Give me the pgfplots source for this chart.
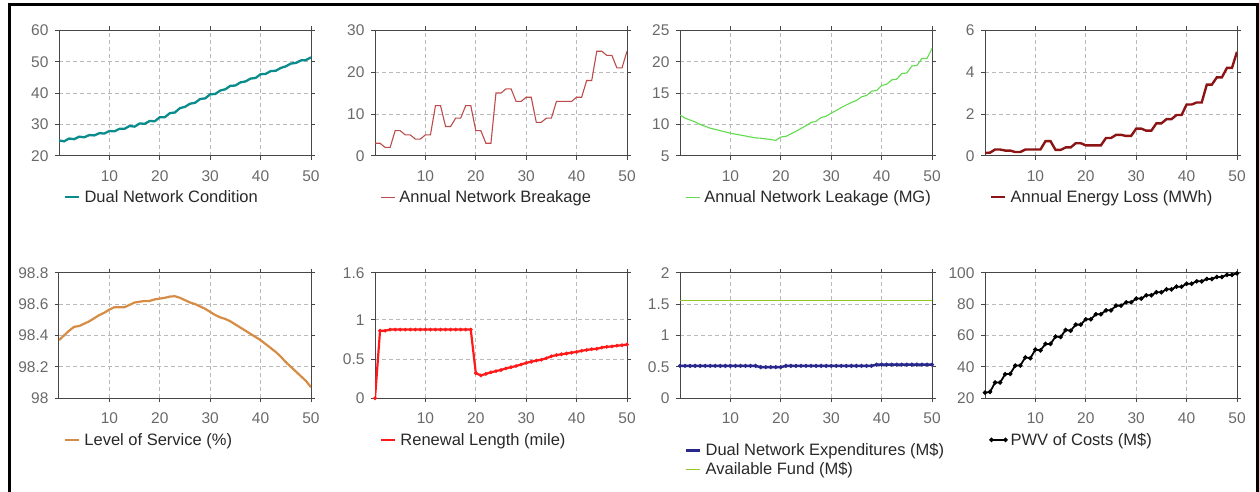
\documentclass[border=0pt]{standalone}
\usepackage{fontspec}
\setmainfont{Liberation Sans}
\usepackage{pgfplots}
\pgfplotsset{compat=1.18}
\definecolor{axisgray}{RGB}{70,70,70}
\definecolor{tickgray}{RGB}{105,105,105}
\definecolor{legtext}{RGB}{40,40,40}
\definecolor{gridgray}{RGB}{185,185,185}
\definecolor{cTeal}{RGB}{10,140,140}
\definecolor{cBreak}{RGB}{190,75,75}
\definecolor{cLeak}{RGB}{95,220,75}
\definecolor{cEnergy}{RGB}{140,20,20}
\definecolor{cLOS}{RGB}{215,140,70}
\definecolor{cRenew}{RGB}{255,25,25}
\definecolor{cNavy}{RGB}{40,40,140}
\definecolor{cFund}{RGB}{145,200,40}
\pgfplotsset{panel/.style={
  scale only axis, width=252pt, height=125.5pt, anchor=north west,
  xmin=0, xmax=50, xtick={10,20,30,40,50},
  grid=major,
  major grid style={color=gridgray, line width=0.8pt, dash pattern=on 4pt off 3pt},
  axis line style={color=axisgray, line width=1pt},
  tick style={color=axisgray, line width=0.8pt},
  tick align=outside, major tick length=4pt,
  ticklabel style={font=\fontsize{15.5}{18}\selectfont, color=tickgray},
  xticklabel style={yshift=-7pt},
  yticklabel style={xshift=-3pt},
  /pgf/number format/assume math mode=true,
  legend style={at={(0.02,-0.33)}, anchor=west, draw=none, fill=none,
    inner sep=0pt, font=\fontsize{16.5}{19}\selectfont, text=legtext,
    nodes={inner sep=0pt}, column sep=4pt, row sep=5pt},
  legend cell align=left,
  legend image code/.code={\draw[#1] plot coordinates {(0pt,0pt) (14pt,0pt)};},
},
plainlegend/.style={legend image code/.code={\draw[#1, mark=none] (0pt,0pt) -- (14pt,0pt);}}}
\begin{document}
\begin{tikzpicture}
\path[use as bounding box] (0,0) rectangle (1259pt,-492pt);
\draw[line width=3pt, black] (9.5pt,-492pt) -- (9.5pt,-4.7pt) -- (1257.5pt,-4.7pt) -- (1257.5pt,-492pt);

% Panel 1
\begin{axis}[panel, at={(59pt,-30.3pt)}, ymin=20, ymax=60, ytick={20,30,40,50,60}]
\addplot[cTeal, line width=2.3pt] coordinates {
(0,24.9)(1,24.6)(2,25.5)(3,25.3)(4,26.1)(5,25.9)(6,26.6)(7,26.5)(8,27.2)(9,27.1)
(10,27.9)(11,27.8)(12,28.6)(13,28.6)(14,29.5)(15,29.3)(16,30.3)(17,30.2)(18,31.1)(19,31.0)
(20,32.3)(21,32.3)(22,33.6)(23,33.8)(24,35.2)(25,35.6)(26,36.6)(27,36.9)(28,38.1)(29,38.3)
(30,39.6)(31,39.7)(32,40.8)(33,41.2)(34,42.3)(35,42.4)(36,43.4)(37,43.7)(38,44.6)(39,44.8)
(40,46.0)(41,46.1)(42,47.0)(43,47.1)(44,48.0)(45,48.5)(46,49.4)(47,49.6)(48,50.4)(49,50.5)(50,51.4)};
\addlegendentry{Dual Network Condition}
\end{axis}

% Panel 2
\begin{axis}[panel, at={(375pt,-30.3pt)}, ymin=0, ymax=30, ytick={0,10,20,30}]
\addplot[cBreak, line width=1.1pt] coordinates {
(0,3)(1,3)(2,2)(3,2)(4,6)(5,6)(6,5)(7,5)(8,4)(9,4)
(10,5)(11,5)(12,12)(13,12)(14,7)(15,7)(16,9)(17,9)(18,12)(19,12)
(20,6)(21,6)(22,3)(23,3)(24,15)(25,15)(26,16)(27,16)(28,13)(29,13)
(30,14)(31,14)(32,8)(33,8)(34,9)(35,9)(36,13)(37,13)(38,13)(39,13)
(40,14)(41,14)(42,18)(43,18)(44,25)(45,25)(46,24)(47,24)(48,21)(49,21)(50,25)};
\addlegendentry{Annual Network Breakage}
\end{axis}

% Panel 3
\begin{axis}[panel, at={(680pt,-30.3pt)}, ymin=5, ymax=25, ytick={5,10,15,20,25}]
\addplot[cLeak, line width=1.1pt] coordinates {
(0,11.5)(1,11.0)(2,10.7)(3,10.4)(4,10.0)(5,9.7)(6,9.4)(7,9.2)(8,9.0)(9,8.8)
(10,8.6)(11,8.45)(12,8.3)(13,8.15)(14,8.0)(15,7.85)(16,7.8)(17,7.7)(18,7.6)(19,7.45)
(20,8.0)(21,8.1)(22,8.5)(23,8.9)(24,9.35)(25,9.8)(26,10.3)(27,10.5)(28,11.1)(29,11.3)
(30,11.8)(31,12.2)(32,12.7)(33,13.1)(34,13.5)(35,13.8)(36,14.4)(37,14.6)(38,15.3)(39,15.4)
(40,16.2)(41,16.4)(42,17.1)(43,17.2)(44,18.1)(45,18.2)(46,19.3)(47,19.4)(48,20.5)(49,20.5)(50,22.1)};
\addlegendentry{Annual Network Leakage (MG)}
\end{axis}

% Panel 4
\begin{axis}[panel, at={(985pt,-30.3pt)}, ymin=0, ymax=6, ytick={0,2,4,6}]
\addplot[cEnergy, line width=2.4pt] coordinates {
(0,0.14)(1,0.15)(2,0.3)(3,0.3)(4,0.25)(5,0.25)(6,0.18)(7,0.18)(8,0.3)(9,0.3)
(10,0.3)(11,0.3)(12,0.7)(13,0.7)(14,0.28)(15,0.28)(16,0.4)(17,0.4)(18,0.6)(19,0.6)
(20,0.5)(21,0.5)(22,0.5)(23,0.5)(24,0.85)(25,0.85)(26,1.0)(27,1.0)(28,0.95)(29,0.95)
(30,1.3)(31,1.3)(32,1.2)(33,1.2)(34,1.55)(35,1.55)(36,1.75)(37,1.75)(38,1.95)(39,1.95)
(40,2.45)(41,2.45)(42,2.55)(43,2.55)(44,3.4)(45,3.4)(46,3.75)(47,3.75)(48,4.2)(49,4.2)(50,4.97)};
\addlegendentry{Annual Energy Loss (MWh)}
\end{axis}

% Panel 5
\begin{axis}[panel, at={(59pt,-272.7pt)}, ymin=98, ymax=98.8, ytick={98,98.2,98.4,98.6,98.8},
  legend style={at={(0.02,-0.332)}}]
\addplot[cLOS, line width=2.2pt] coordinates {
(0,98.37)(1,98.40)(2,98.43)(3,98.455)(4,98.46)(5,98.475)(6,98.49)(7,98.51)(8,98.53)(9,98.545)
(10,98.565)(11,98.58)(12,98.58)(13,98.58)(14,98.595)(15,98.61)(16,98.615)(17,98.62)(18,98.62)(19,98.63)
(20,98.635)(21,98.64)(22,98.648)(23,98.65)(24,98.64)(25,98.625)(26,98.61)(27,98.6)(28,98.585)(29,98.57)
(30,98.55)(31,98.53)(32,98.515)(33,98.505)(34,98.49)(35,98.47)(36,98.45)(37,98.43)(38,98.41)(39,98.39)
(40,98.37)(41,98.345)(42,98.32)(43,98.295)(44,98.265)(45,98.23)(46,98.2)(47,98.17)(48,98.14)(49,98.11)(50,98.07)};
\addlegendentry{Level of Service (\%)}
\end{axis}

% Panel 6
\begin{axis}[panel, plainlegend, at={(375pt,-272.7pt)}, ymin=0, ymax=1.6, ytick={0,0.5,1,1.6},
  legend style={at={(0.02,-0.332)}}]
\addplot[cRenew, line width=2.2pt, mark=*, mark size=0.5pt] coordinates {
(0,0)(1,0.86)(2,0.86)(3,0.875)(4,0.875)(5,0.875)(6,0.875)(7,0.875)(8,0.875)(9,0.875)
(10,0.875)(11,0.875)(12,0.875)(13,0.875)(14,0.875)(15,0.875)(16,0.875)(17,0.875)(18,0.875)(19,0.875)
(20,0.32)(21,0.29)(22,0.31)(23,0.33)(24,0.345)(25,0.36)(26,0.38)(27,0.395)(28,0.41)(29,0.43)
(30,0.45)(31,0.465)(32,0.48)(33,0.49)(34,0.51)(35,0.535)(36,0.55)(37,0.56)(38,0.57)(39,0.58)
(40,0.59)(41,0.605)(42,0.615)(43,0.625)(44,0.63)(45,0.645)(46,0.655)(47,0.66)(48,0.67)(49,0.675)(50,0.685)};
\addlegendentry{Renewal Length (mile)}
\end{axis}

% Panel 7
\begin{axis}[panel, plainlegend, at={(680pt,-272.7pt)}, ymin=0, ymax=2, ytick={0,0.5,1,1.5,2},
  legend style={at={(0.02,-0.49)}}]
\addplot[cNavy, line width=2.4pt, mark=*, mark size=0.6pt] coordinates {
(0,0.515)(1,0.515)(2,0.515)(3,0.515)(4,0.515)(5,0.515)(6,0.515)(7,0.515)(8,0.515)(9,0.515)
(10,0.515)(11,0.515)(12,0.515)(13,0.515)(14,0.515)(15,0.515)(16,0.495)(17,0.495)(18,0.495)(19,0.495)
(20,0.495)(21,0.515)(22,0.515)(23,0.515)(24,0.515)(25,0.515)(26,0.515)(27,0.515)(28,0.515)(29,0.515)
(30,0.515)(31,0.515)(32,0.515)(33,0.515)(34,0.515)(35,0.515)(36,0.515)(37,0.515)(38,0.515)(39,0.535)
(40,0.535)(41,0.535)(42,0.535)(43,0.535)(44,0.535)(45,0.535)(46,0.535)(47,0.535)(48,0.535)(49,0.535)(50,0.535)};
\addlegendentry{Dual Network Expenditures (M\$)}
\addplot[cFund, line width=1.1pt] coordinates {(0,1.55)(10,1.55)(20,1.55)(30,1.55)(40,1.55)(50,1.55)};
\addlegendentry{Available Fund (M\$)}
\end{axis}

% Panel 8
\begin{axis}[panel, at={(985pt,-272.7pt)}, ymin=20, ymax=100, ytick={20,40,60,80,100},
  legend style={at={(0.02,-0.332)}}]
\addplot[black, line width=1.8pt, mark=*, mark size=1.2pt] coordinates {
(0,23.5)(1,24)(2,30)(3,30)(4,35.3)(5,35.5)(6,40.8)(7,40.8)(8,46)(9,45.5)
(10,51)(11,50.5)(12,54.6)(13,54.6)(14,59.3)(15,59)(16,63.5)(17,63)(18,66.9)(19,66.9)
(20,70.3)(21,70.3)(22,73.5)(23,73.5)(24,76)(25,76)(26,79)(27,79)(28,81.1)(29,81.1)
(30,83.5)(31,83.5)(32,85.6)(33,85.6)(34,87.5)(35,87.5)(36,89.4)(37,89.4)(38,91.1)(39,91.1)
(40,93)(41,93)(42,94.5)(43,94.5)(44,96)(45,96)(46,97.3)(47,97.3)(48,98.6)(49,98.6)(50,99.6)};
\addlegendentry{PWV of Costs (M\$)}
\end{axis}
\end{tikzpicture}
\end{document}
